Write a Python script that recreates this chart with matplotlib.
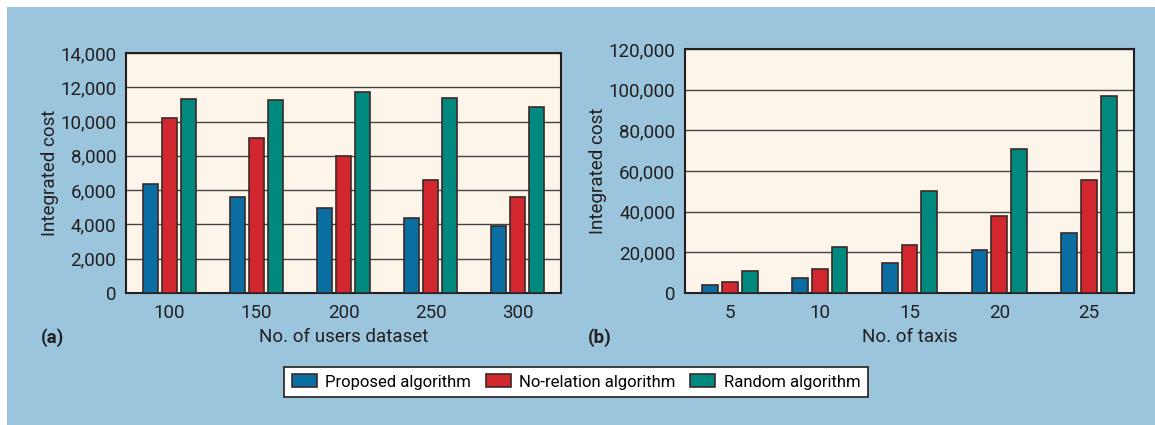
import matplotlib.pyplot as plt
import numpy as np
from matplotlib.patches import Rectangle

# panel (a)
users = ['100', '150', '200', '250', '300']
proposed_a = [6350, 5600, 4950, 4370, 3900]
norelation_a = [10180, 9070, 7990, 6620, 5600]
random_a = [11340, 11280, 11730, 11380, 10870]

# panel (b)
taxis = ['5', '10', '15', '20', '25']
proposed_b = [3800, 7400, 14600, 21300, 29500]
norelation_b = [5600, 12000, 23800, 37800, 55500]
random_b = [10800, 22700, 50100, 70700, 96800]

series_names = ['Proposed algorithm', 'No-relation algorithm', 'Random algorithm']
colors = ['#0a6ea3', '#d3272f', '#00897f']

plt.rcParams['font.family'] = ['Roboto', 'DejaVu Sans']

fig = plt.figure(figsize=(11.55, 4.25), dpi=100)
fig.patch.set_facecolor('white')
fig.add_artist(Rectangle((7 / 1155, 0), 1 - 7 / 1155, 1 - 7 / 425,
                         transform=fig.transFigure, facecolor='#9bc5dc',
                         edgecolor='none', zorder=-10))


def panel(rect, cats, data, ymax, ystep, xlabel, tag, tagx):
    ax = fig.add_axes(rect)
    ax.set_facecolor('#fdf5e9')
    x = np.arange(len(cats))
    for i, (vals, c) in enumerate(zip(data, colors)):
        ax.bar(x + (i - 1) * 0.22, vals, width=0.175, color=c,
               edgecolor='#3a2a2a', linewidth=1.2, label=series_names[i], zorder=3)
    ax.set_xlim(-0.5, len(cats) - 0.5)
    ax.set_ylim(0, ymax)
    ax.set_yticks(np.arange(0, ymax + 1, ystep))
    ax.set_yticklabels([f'{int(v):,}' for v in np.arange(0, ymax + 1, ystep)])
    ax.set_xticks(x)
    ax.set_xticklabels(cats)
    ax.tick_params(length=0, labelsize=13.5, colors='#231f20')
    ax.tick_params(axis='x', pad=8)
    ax.tick_params(axis='y', pad=7)
    ax.yaxis.grid(True, color='#444444', linewidth=1)
    ax.set_axisbelow(True)
    for s in ax.spines.values():
        s.set_linewidth(1.5)
        s.set_color('#231f20')
    ax.set_xlabel(xlabel, fontsize=13.5, color='#231f20', labelpad=4)
    ax.set_ylabel('Integrated cost', fontsize=13.5, color='#231f20', labelpad=1)
    fig.text(tagx / 1155, 1 - 338 / 425, tag, fontsize=13.5, fontweight='bold',
             ha='center', va='center', color='#231f20')
    return ax


ax1 = panel([126 / 1155, 132 / 425, 435 / 1155, 240 / 425], users,
            [proposed_a, norelation_a, random_a], 14000, 2000,
            'No. of users dataset', '(a)', 52)
ax2 = panel([685 / 1155, 132 / 425, 449 / 1155, 244 / 425], taxis,
            [proposed_b, norelation_b, random_b], 120000, 20000,
            'No. of taxis', '(b)', 600)

handles, labels = ax1.get_legend_handles_labels()
leg = fig.legend(handles, labels, ncol=3, loc='center',
                 bbox_to_anchor=(576 / 1155, 1 - 382 / 425), fontsize=12,
                 frameon=True, fancybox=False, edgecolor='#231f20',
                 facecolor='white', framealpha=1, handlelength=1.5,
                 handleheight=0.8, columnspacing=0.9, handletextpad=0.5,
                 borderpad=0.45)
leg.get_frame().set_linewidth(1.2)

fig.savefig('out.png', dpi=100)
